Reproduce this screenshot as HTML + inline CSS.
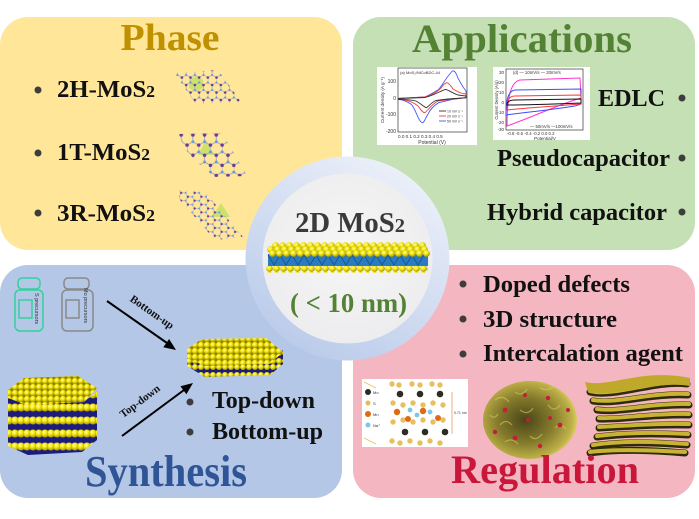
<!DOCTYPE html>
<html><head><meta charset="utf-8"><style>
html,body{margin:0;padding:0;background:#fff;}
svg{display:block;}
text{font-family:"Liberation Serif",serif;font-weight:bold;}
.s{font-family:"Liberation Sans",sans-serif;font-weight:normal;}
</style></head><body>
<svg width="699" height="519" viewBox="0 0 699 519" xmlns="http://www.w3.org/2000/svg">
<defs>
<radialGradient id="bg" cx="0.4" cy="0.35" r="0.65">
<stop offset="0" stop-color="#ffffa0"/><stop offset="0.45" stop-color="#f4e60c"/><stop offset="1" stop-color="#a89800"/>
</radialGradient>
<pattern id="b6" width="6" height="6" patternUnits="userSpaceOnUse"><rect width="6" height="6" fill="#8c7f00"/><circle cx="3" cy="3" r="3.1" fill="url(#bg)"/></pattern>
<pattern id="b7" width="7" height="7" patternUnits="userSpaceOnUse"><circle cx="3.5" cy="3.5" r="3.4" fill="url(#bg)"/></pattern>
<pattern id="side" width="6" height="13" patternUnits="userSpaceOnUse"><rect width="6" height="13" fill="#1c1c7e"/><circle cx="3" cy="4.5" r="4" fill="url(#bg)"/></pattern>
<pattern id="side1" width="6" height="14" patternUnits="userSpaceOnUse"><rect width="6" height="14" fill="#1c1c7e"/><circle cx="3" cy="3" r="3" fill="url(#bg)"/><circle cx="3" cy="11" r="3" fill="url(#bg)"/></pattern>
<pattern id="hex" width="8.66" height="15" patternUnits="userSpaceOnUse">
<path d="M0,2.5 L4.33,0 L8.66,2.5 M0,2.5 L0,7.5 L4.33,10 L8.66,7.5 M4.33,10 L4.33,15" stroke="#9aa8c8" stroke-width="0.7" fill="none"/>
<circle cx="0" cy="2.5" r="1.3" fill="#6a3a96"/><circle cx="8.66" cy="2.5" r="1.3" fill="#6a3a96"/><circle cx="4.33" cy="10" r="1.3" fill="#6a3a96"/>
<circle cx="4.33" cy="0" r="1.1" fill="#6a9ade"/><circle cx="4.33" cy="15" r="1.1" fill="#6a9ade"/><circle cx="0" cy="7.5" r="1.1" fill="#6a9ade"/><circle cx="8.66" cy="7.5" r="1.1" fill="#6a9ade"/>
</pattern>
<pattern id="hex2" href="#hex" patternTransform="scale(1.35)"/>
<pattern id="hex3" href="#hex" patternTransform="rotate(30) scale(0.9)"/>
<linearGradient id="ring" x1="0.8" y1="0" x2="0.2" y2="1">
<stop offset="0" stop-color="#eef2fa"/><stop offset="0.5" stop-color="#d2ddf1"/><stop offset="1" stop-color="#b7c9e9"/>
</linearGradient>
<radialGradient id="inner" cx="0.5" cy="0.45" r="0.6">
<stop offset="0" stop-color="#f6f6f6"/><stop offset="1" stop-color="#ececee"/>
</radialGradient>
<radialGradient id="sph" cx="0.45" cy="0.5" r="0.55">
<stop offset="0" stop-color="#4a4518"/><stop offset="0.55" stop-color="#867c2c"/><stop offset="0.9" stop-color="#bdb048"/><stop offset="1" stop-color="#d8cb5e"/>
</radialGradient>
<clipPath id="top1"><polygon points="187,349 202,339 266,338 283,352 270,364 205,366 187,358"/></clipPath>
<clipPath id="top2"><polygon points="8,390 24,378 78,376 97,388 84,402 26,405 8,398"/></clipPath>
</defs>

<!-- panels -->
<rect x="0" y="17" width="342" height="233" rx="28" fill="#ffe699"/>
<rect x="353" y="17" width="342" height="233" rx="28" fill="#c5e0b4"/>
<rect x="0" y="265" width="342" height="233" rx="28" fill="#b4c7e7"/>
<rect x="353" y="265" width="342" height="233" rx="28" fill="#f4b6c0"/>

<!-- PHASE -->
<text x="170" y="50" text-anchor="middle" font-size="38" fill="#bf9000" textLength="99" lengthAdjust="spacingAndGlyphs">Phase</text>
<circle cx="38" cy="90" r="3.5" fill="#3d3d3d"/>
<circle cx="38" cy="153" r="3.5" fill="#3d3d3d"/>
<circle cx="38" cy="213" r="3.5" fill="#3d3d3d"/>
<text x="57" y="97" font-size="24" fill="#111" textLength="98" lengthAdjust="spacingAndGlyphs">2H-MoS<tspan font-size="17">2</tspan></text>
<text x="57" y="160" font-size="24" fill="#111" textLength="93" lengthAdjust="spacingAndGlyphs">1T-MoS<tspan font-size="17">2</tspan></text>
<text x="57" y="221" font-size="24" fill="#111" textLength="98" lengthAdjust="spacingAndGlyphs">3R-MoS<tspan font-size="17">2</tspan></text>
<!-- 2H -->
<polygon points="196,76 203,80 203,88 196,92 189,88 189,80" fill="#b8e05a" opacity="0.7"/>
<polygon points="174,73 218,70 241,102 196,104" fill="url(#hex)"/>
<!-- 1T -->
<polygon points="206,140 214,155 198,155" fill="#b8e05a" opacity="0.7"/>
<polygon points="178,134 222,133 232,150 247,176 214,177 195,160 186,150" fill="url(#hex2)"/>
<!-- 3R -->
<polygon points="221,203 230,217 212,217" fill="#b8e05a" opacity="0.7"/>
<polygon points="177,190 205,192 243,237 215,240 180,200" fill="url(#hex3)"/>

<!-- APPLICATIONS -->
<text x="522" y="52" text-anchor="middle" font-size="40" fill="#548235" textLength="220" lengthAdjust="spacingAndGlyphs">Applications</text>
<!-- graph 1 -->
<rect x="377" y="67" width="100" height="78" fill="#fff"/>
<rect x="398" y="68" width="69" height="64" fill="none" stroke="#333" stroke-width="0.7"/>
<text class="s" x="396" y="83" font-size="5" text-anchor="end" fill="#333">100</text>
<text class="s" x="396" y="100" font-size="5" text-anchor="end" fill="#333">0</text>
<text class="s" x="396" y="116" font-size="5" text-anchor="end" fill="#333">-100</text>
<text class="s" x="396" y="133" font-size="5" text-anchor="end" fill="#333">-200</text>
<text class="s" x="398" y="138" font-size="4.6" fill="#333">0.0  0.1  0.2  0.3  0.4  0.5</text>
<text class="s" x="432" y="144" font-size="5" text-anchor="middle" fill="#333">Potential (V)</text>
<text class="s" transform="translate(384,100) rotate(-90)" font-size="4.6" text-anchor="middle" fill="#333">Current density (A g⁻¹)</text>
<text class="s" x="400" y="74" font-size="4" fill="#333">(a)    MoS₂/NiCoBDC-44</text>
<path d="M398,98.5 L425,96.9 C432,94 436,91 438.7,89.4 C443,84 446,78 452.3,71 C455,70 457,75 457.8,77.7 C460,82 462,86 466,91 L466,97.7 L452.3,99.4 L438.7,102.7 C433,106 430,110 427.8,114.4 C425,119 424,123 422.3,122.7 C420,122 419,119 418.2,117.7 C415,110 413,106 411.4,104.4 C405,100 401,99.5 398,99.4" fill="none" stroke="#4a55ff" stroke-width="0.9"/>
<path d="M398,98.5 L425,97 C432,95 438,91 441,88 C443,85 445,83 446.9,82.7 C449,83 451,86 453,89 C458,92 463,94 466,94 L466,97.7 L452,99 L438,101 C432,104 428,110 425,112.7 C423,113 421,110 418,106 C412,101 405,99.5 398,99.4" fill="none" stroke="#ee3b3b" stroke-width="0.9"/>
<path d="M398,98.5 L425,97.5 C435,95 440,91 445.5,89.4 C449,90 452,93 458,95 L466,96 L466,97.7 L448,99 L436,100.5 C432,102 429,106 426.4,107.7 C424,107 420,103 416,101 C410,99.5 404,99.4 398,99.4" fill="none" stroke="#333" stroke-width="0.9"/>
<path d="M439,111 h7" stroke-width="0.9" stroke="#333"/>
<path d="M439,116 h7" stroke="#ee3b3b" stroke-width="0.9"/><path d="M439,121 h7" stroke="#4a55ff" stroke-width="0.9"/>
<text class="s" x="447" y="112.5" font-size="3.5" fill="#333">10 mV s⁻¹</text>
<text class="s" x="447" y="117.5" font-size="3.5" fill="#333">20 mV s⁻¹</text>
<text class="s" x="447" y="122.5" font-size="3.5" fill="#333">50 mV s⁻¹</text>
<!-- graph 2 -->
<rect x="493" y="67" width="97" height="73" fill="#fff"/>
<rect x="506" y="69" width="77" height="61" fill="none" stroke="#333" stroke-width="0.7"/>
<text class="s" x="504" y="74" font-size="4.5" text-anchor="end" fill="#333">30</text>
<text class="s" x="504" y="84" font-size="4.5" text-anchor="end" fill="#333">20</text>
<text class="s" x="504" y="94" font-size="4.5" text-anchor="end" fill="#333">10</text>
<text class="s" x="504" y="104" font-size="4.5" text-anchor="end" fill="#333">0</text>
<text class="s" x="504" y="114" font-size="4.5" text-anchor="end" fill="#333">-10</text>
<text class="s" x="504" y="124" font-size="4.5" text-anchor="end" fill="#333">-20</text>
<text class="s" x="504" y="131" font-size="4.5" text-anchor="end" fill="#333">-30</text>
<text class="s" x="507" y="135" font-size="4.3" font-weight="bold" fill="#333">-0.8  -0.6  -0.4  -0.2  0.0  0.2</text>
<text class="s" x="545" y="140" font-size="4.5" text-anchor="middle" font-weight="bold" fill="#333">Potential/V</text>
<text class="s" transform="translate(498,100) rotate(-90)" font-size="4.2" text-anchor="middle" fill="#333">Current Density (A/g)</text>
<path d="M507,126 C507,100 510,82 520,80 L580,78 L581,98 C560,104 530,118 507,126 Z" fill="none" stroke="#ff33cc" stroke-width="1"/>
<path d="M506,115 C506,100 508,91 515,90 L581,89 L581,104 L575,106 C550,110 520,113 506,115 Z" fill="none" stroke="#3b4cff" stroke-width="1"/>
<path d="M507,110 C507,100 509,96 515,96 L581,95 L581,104 C555,106 525,108 507,110 Z" fill="none" stroke="#ff3333" stroke-width="1"/>
<path d="M507,105 C507,102 509,100 515,100 L581,99 L581,103 C555,104 525,105 507,105 Z" fill="none" stroke="#111" stroke-width="1"/>
<text class="s" x="513" y="74" font-size="4.3" fill="#333">(d)   — 10mV/s   — 20mV/s</text>
<text class="s" x="530" y="128" font-size="4.3" fill="#333">— 50mV/s   —100mV/s</text>

<text x="598" y="106" font-size="24" fill="#111" textLength="67" lengthAdjust="spacingAndGlyphs">EDLC</text>
<text x="497" y="166" font-size="24" fill="#111" textLength="173" lengthAdjust="spacingAndGlyphs">Pseudocapacitor</text>
<text x="487" y="220" font-size="24" fill="#111" textLength="180" lengthAdjust="spacingAndGlyphs">Hybrid capacitor</text>
<circle cx="682" cy="98" r="3.5" fill="#3d3d3d"/>
<circle cx="682" cy="158" r="3.5" fill="#3d3d3d"/>
<circle cx="682" cy="212" r="3.5" fill="#3d3d3d"/>

<!-- SYNTHESIS -->
<g fill="none" stroke="#34d19c" stroke-width="1.5">
<rect x="18" y="278" width="22" height="11" rx="4"/>
<rect x="15" y="290" width="28" height="41" rx="5"/>
<rect x="19" y="300" width="13" height="18"/>
</g>
<text class="s" transform="translate(35,293) rotate(90)" font-size="5.5" fill="#333">S precursors</text>
<g fill="none" stroke="#8a8a8a" stroke-width="1.5">
<rect x="64" y="278" width="25" height="11" rx="4"/>
<rect x="62" y="290" width="31" height="41" rx="5"/>
<rect x="66" y="300" width="13" height="18"/>
</g>
<text class="s" transform="translate(84,288) rotate(90)" font-size="5.5" fill="#333">Mo precursors</text>
<line x1="107" y1="301" x2="167" y2="343" stroke="#000" stroke-width="2"/>
<polygon points="176,350 163.3,347.2 169.1,339" fill="#000"/>
<line x1="122" y1="436" x2="184" y2="390" stroke="#000" stroke-width="2"/>
<polygon points="193,383 186.4,394.2 180.4,386.2" fill="#000"/>
<text transform="translate(150,315) rotate(35)" text-anchor="middle" font-size="11" fill="#111">Bottom-up</text>
<text transform="translate(142,404) rotate(-37)" text-anchor="middle" font-size="11" fill="#111">Top-down</text>
<polygon points="187,352 205,362 270,361 283,350 283,364 270,375 205,377 187,366" fill="url(#side1)"/>
<rect x="185" y="335" width="100" height="35" fill="url(#b6)" clip-path="url(#top1)"/>
<polygon points="8,394 26,404 84,402 97,391 97,440 82,452 28,455 8,446" fill="url(#side)"/>
<rect x="6" y="374" width="94" height="34" fill="url(#b6)" clip-path="url(#top2)"/>

<circle cx="190" cy="402" r="3.5" fill="#3d3d3d"/>
<circle cx="190" cy="432" r="3.5" fill="#3d3d3d"/>
<text x="212" y="408" font-size="24" fill="#111" textLength="103" lengthAdjust="spacingAndGlyphs">Top-down</text>
<text x="212" y="439" font-size="24" fill="#111" textLength="111" lengthAdjust="spacingAndGlyphs">Bottom-up</text>
<text x="166" y="486" text-anchor="middle" font-size="44" fill="#2f5597" textLength="162" lengthAdjust="spacingAndGlyphs">Synthesis</text>

<!-- REGULATION -->
<circle cx="463" cy="284" r="3.5" fill="#3d3d3d"/>
<circle cx="463" cy="319" r="3.5" fill="#3d3d3d"/>
<circle cx="463" cy="354" r="3.5" fill="#3d3d3d"/>
<text x="483" y="292" font-size="24" fill="#111" textLength="147" lengthAdjust="spacingAndGlyphs">Doped defects</text>
<text x="483" y="327" font-size="24" fill="#111" textLength="134" lengthAdjust="spacingAndGlyphs">3D structure</text>
<text x="483" y="361" font-size="24" fill="#111" textLength="200" lengthAdjust="spacingAndGlyphs">Intercalation agent</text>
<rect x="362" y="379" width="106" height="68" fill="#fff"/>
<line x1="364" y1="382" x2="376" y2="388" stroke="#e8c060" stroke-width="0.8"/>
<line x1="364" y1="438" x2="376" y2="444" stroke="#e8c060" stroke-width="0.8"/>
<circle cx="368" cy="392" r="3" fill="#2a2a20"/><text class="s" x="373" y="394" font-size="4" fill="#333">Mo</text>
<circle cx="368" cy="403" r="2.5" fill="#e3bb5c"/><text class="s" x="373" y="405" font-size="4" fill="#333">S</text>
<circle cx="368" cy="414" r="3" fill="#de6a12"/><text class="s" x="373" y="416" font-size="4" fill="#333">Mn</text>
<circle cx="368" cy="425" r="2.5" fill="#7cc8e6"/><text class="s" x="373" y="427" font-size="4" fill="#333">Na⁺</text>
<g fill="#e8bf5e">
<circle cx="392" cy="384" r="2.7"/><circle cx="399" cy="385" r="2.7"/><circle cx="412" cy="384" r="2.7"/><circle cx="420" cy="385" r="2.7"/><circle cx="432" cy="384" r="2.7"/><circle cx="440" cy="385" r="2.7"/>
<circle cx="393" cy="403" r="2.7"/><circle cx="403" cy="405" r="2.7"/><circle cx="413" cy="403" r="2.7"/><circle cx="423" cy="405" r="2.7"/><circle cx="433" cy="403" r="2.7"/><circle cx="443" cy="405" r="2.7"/>
<circle cx="393" cy="422" r="2.7"/><circle cx="403" cy="420" r="2.7"/><circle cx="413" cy="422" r="2.7"/><circle cx="423" cy="420" r="2.7"/><circle cx="433" cy="422" r="2.7"/><circle cx="443" cy="420" r="2.7"/>
<circle cx="392" cy="441" r="2.7"/><circle cx="400" cy="443" r="2.7"/><circle cx="410" cy="441" r="2.7"/><circle cx="420" cy="443" r="2.7"/><circle cx="430" cy="441" r="2.7"/><circle cx="440" cy="443" r="2.7"/>
</g>
<g fill="#2c2c22"><circle cx="400" cy="394" r="3.3"/><circle cx="420" cy="394" r="3.3"/><circle cx="440" cy="394" r="3.3"/><circle cx="405" cy="432" r="3.3"/><circle cx="425" cy="432" r="3.3"/><circle cx="445" cy="432" r="3.3"/></g>
<g fill="#de6a12"><circle cx="397" cy="412" r="3.2"/><circle cx="423" cy="411" r="3.2"/><circle cx="408" cy="419" r="3"/><circle cx="438" cy="418" r="3"/></g>
<g fill="#7cc8e6"><circle cx="410" cy="410" r="2.4"/><circle cx="430" cy="412" r="2.4"/><circle cx="417" cy="415" r="2.4"/></g>
<line x1="452" y1="392" x2="452" y2="434" stroke="#e07a30" stroke-width="0.6"/>
<text class="s" x="454" y="414" font-size="3.5" fill="#333">0.71 nm</text>
<ellipse cx="530" cy="420" rx="47" ry="39" fill="url(#sph)"/>
<g fill="none" stroke="#d9cc62" stroke-width="1.3" opacity="0.55">
<path d="M495,400 q8,-6 14,2 M515,392 q7,5 12,-3 M540,388 q8,4 14,-2 M500,425 q6,-7 12,0 M520,410 q8,6 13,-2 M548,405 q6,8 12,0 M505,442 q7,-5 13,2 M530,436 q6,6 12,-2 M555,428 q5,-6 11,1 M490,415 q4,5 8,-1"/>
</g>
<g fill="#c51d3a"><circle cx="505" cy="410" r="2.4"/><circle cx="525" cy="395" r="2"/><circle cx="548" cy="398" r="2.2"/><circle cx="515" cy="438" r="2.4"/><circle cx="540" cy="446" r="2.2"/><circle cx="560" cy="425" r="2.4"/><circle cx="495" cy="432" r="2.2"/><circle cx="528" cy="420" r="2"/><circle cx="550" cy="418" r="2"/><circle cx="568" cy="410" r="2"/></g>
<g fill="none" stroke-linecap="round">
<g stroke="#2e2a0c" stroke-width="7">
<path d="M590,392 C615,398 655,380 687,384"/><path d="M593,401 C618,405 650,393 688,395"/><path d="M597,410 C620,413 650,404 689,405"/><path d="M599,419 C622,420 652,414 689,415"/><path d="M599,428 C622,427 652,424 689,425"/><path d="M597,437 C620,434 652,433 688,435"/><path d="M593,446 C618,442 650,442 687,445"/><path d="M590,453 C615,449 650,450 685,453"/>
</g>
<g stroke="#c8b432" stroke-width="4">
<path d="M590,391 C615,397 655,379 687,383"/><path d="M593,400 C618,404 650,392 688,394"/><path d="M597,409 C620,412 650,403 689,404"/><path d="M599,418 C622,419 652,413 689,414"/><path d="M599,427 C622,426 652,423 689,424"/><path d="M597,436 C620,433 652,432 688,434"/><path d="M593,445 C618,441 650,441 687,444"/><path d="M590,452 C615,449 650,450 685,452"/>
</g>
</g>
<path d="M585,382 C610,388 640,368 690,378 L690,386 C655,380 615,398 588,392 Z" fill="#bfa92a"/>
<text x="545" y="483" text-anchor="middle" font-size="40" fill="#c8173a" textLength="188" lengthAdjust="spacingAndGlyphs">Regulation</text>

<!-- CENTER CIRCLE -->
<circle cx="347.5" cy="258.5" r="102" fill="url(#ring)"/>
<circle cx="347.5" cy="258.5" r="85" fill="url(#inner)"/>
<text x="350" y="232" text-anchor="middle" font-size="28" fill="#3a3a3a" textLength="110" lengthAdjust="spacingAndGlyphs">2D MoS<tspan font-size="20">2</tspan></text>
<rect width="162" height="8" fill="url(#b7)" transform="translate(266,265)"/>
<rect x="268" y="254" width="160" height="12" fill="#2a7cc2"/>
<path d="M268,255 l6,10 l6,-10 l6,10 l6,-10 l6,10 l6,-10 l6,10 l6,-10 l6,10 l6,-10 l6,10 l6,-10 l6,10 l6,-10 l6,10 l6,-10 l6,10 l6,-10 l6,10 l6,-10 l6,10 l6,-10 l6,10 l6,-10 l6,10 l6,-10" fill="none" stroke="#174f8a" stroke-width="0.8"/>
<rect width="154" height="7" fill="url(#b7)" transform="translate(272,242)"/>
<rect width="161" height="7" fill="url(#b7)" transform="translate(267,246)"/>
<rect width="161" height="7" fill="url(#b7)" transform="translate(269,250)"/>
<text x="348.5" y="312" text-anchor="middle" font-size="27" fill="#548235" textLength="117" lengthAdjust="spacingAndGlyphs">( &lt; 10 nm)</text>
</svg>
</body></html>
